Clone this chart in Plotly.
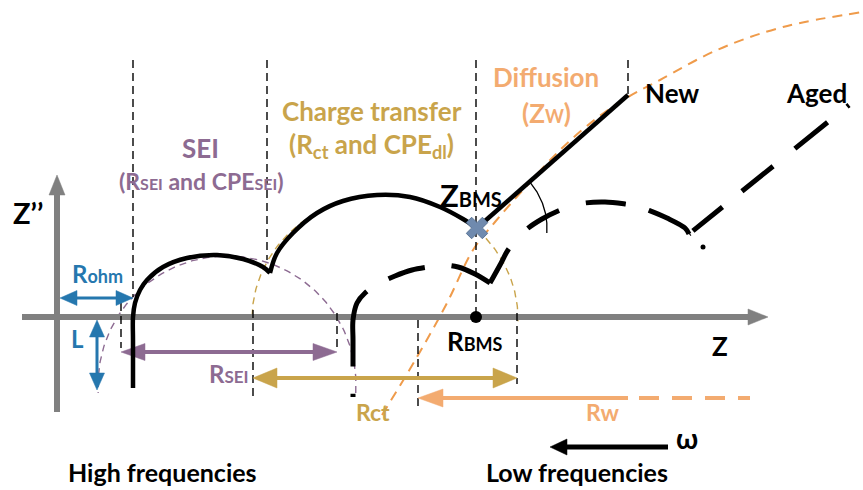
import numpy as np
import plotly.graph_objects as go

# ---------------- data (Z = real part, Zim = -imaginary part; same unit on both axes) ----------------
# "New" cell impedance spectrum (solid)
new_hf_z   = [76, 76, 76, 78, 83, 90, 106, 130, 160, 186, 206, 213]
new_hf_zim = [-71, -23, 0, 14, 27, 37, 50, 59, 62, 58, 50, 44]
new_ct_z   = [213, 220, 236, 260, 286, 320, 353, 383, 406, 420]
new_ct_zim = [44, 64, 84, 104, 116, 122, 120, 110, 98, 89]
new_w_z    = [420, 571]
new_w_zim  = [89, 222]

# "Aged" cell impedance spectrum (long dashes)
aged_hf_z   = [296, 296, 296, 300, 308, 323, 338, 355, 371, 385, 401, 418, 433]
aged_hf_zim = [-80, -23, -3, 14, 24, 34, 41, 47, 50, 52, 50, 43, 34]
aged_ct_z   = [433, 443, 451, 460, 470, 485, 501, 515, 528, 548, 568, 580, 591, 610, 628, 632]
aged_ct_zim = [34, 52, 67, 78, 88, 98, 106, 111, 114, 115, 113, 111, 107, 99, 89, 83]
aged_w_z    = [632, 792]
aged_w_zim  = [83, 212]
aged_dot_z, aged_dot_zim = [646], [70]

# Warburg (diffusion) guide curve
warb_z   = [325, 360, 390, 416, 438, 466, 503, 540, 571, 603, 660, 726, 806]
warb_zim = [-98, -40, 14, 67, 95, 127, 167, 199, 220, 237, 267, 290, 305]

# semicircle guides: centre (Z, Zim) and radii (real, imaginary)
sei_center, sei_radius = (170, -68), (129, 129)
ct_center, ct_radius = (328, -2), (133, 124)

# characteristic resistances / points
R_ohm = 76
R_sei = (64, 280)
R_ct = (196, 460)
R_w = (361, 571)
R_w_ext = 693
R_BMS = 419
Z_BMS = (420, 89)

# vertical region separators and arrow-end ticks
guide_z      = [76, 210, 419, 571]
guide_bottom = [20, 57, 0, 222]
guide_top    = 257
tick_z       = [64, 196, 280, 361, 460]
tick_top     = [14, 7, 4, -3, 4]
tick_bottom  = [-31, -80, -30, -90, -67]

# ---------------- colours ----------------
GRAY = "#808080"
PURPLE = "#8d6b92"
GOLD = "#c9a44b"
ORANGE_TXT = "#f3ab70"
ORANGE_LINE = "#ef9b4b"
BLUE = "#2577ae"
BLACK = "#000000"
FONT = "Lato"

fig = go.Figure()


def line(x, y, color, width, dash="solid", shape="linear"):
    fig.add_trace(go.Scatter(x=x, y=y, mode="lines", hoverinfo="skip",
                             line=dict(color=color, width=width, dash=dash, shape=shape, smoothing=1)))


def arrow(x0, y0, x1, y1, color, width, head_len, head_w, both=False):
    dx, dy = x1 - x0, y1 - y0
    L = float(np.hypot(dx, dy))
    ux, uy = dx / L, dy / L
    sx = x0 + (ux * head_len * 0.8 if both else 0)
    sy = y0 + (uy * head_len * 0.8 if both else 0)
    ex, ey = x1 - ux * head_len * 0.8, y1 - uy * head_len * 0.8
    line([sx, ex], [sy, ey], color, width)
    heads = [(x1, y1, ux, uy)]
    if both:
        heads.append((x0, y0, -ux, -uy))
    for tx, ty, vx, vy in heads:
        bx, by = tx - vx * head_len, ty - vy * head_len
        wx, wy = -vy * head_w / 2, vx * head_w / 2
        fig.add_trace(go.Scatter(x=[tx, bx + wx, bx - wx, tx], y=[ty, by + wy, by - wy, ty],
                                 mode="lines", fill="toself", fillcolor=color,
                                 line=dict(color=color, width=0.5), hoverinfo="skip"))


def arc(center, radii, a0, a1, color, width, dash):
    t = np.radians(np.linspace(a0, a1, 200))
    line(center[0] + radii[0] * np.cos(t), center[1] + radii[1] * np.sin(t), color, width, dash)


# semicircle guides and Warburg guide
arc(sei_center, sei_radius, -3.5, 183.5, PURPLE, 1.4, "7px,5px")
arc(ct_center, ct_radius, -1, 181, GOLD, 1.4, "7px,5px")
line(warb_z, warb_zim, ORANGE_LINE, 2, "10px,7px", "spline")

# axes
arrow(-35, 0, 711, 0, GRAY, 6, 20, 16)
arrow(0, -95, 0, 142, GRAY, 6, 20, 16)

# separators
for z, b in zip(guide_z, guide_bottom):
    line([z, z], [guide_top, b], BLACK, 1.4, "8px,5px")
for z, t, b in zip(tick_z, tick_top, tick_bottom):
    line([z, z], [t, b], BLACK, 1.4, "8px,5px")

# resistance arrows
arrow(3, 19, R_ohm, 19, BLUE, 3, 17, 15, both=True)
arrow(40, -3, 40, -73, BLUE, 3, 17, 15, both=True)
arrow(R_sei[0], -35, R_sei[1], -35, PURPLE, 4, 24, 17, both=True)
arrow(R_ct[0], -61, R_ct[1], -61, GOLD, 4, 24, 20, both=True)
arrow(R_w[1], -81, R_w[0], -81, ORANGE_TXT, 4, 25, 18)
line([R_w[1] + 11, R_w_ext], [-81, -81], ORANGE_TXT, 4, "20px,13px")
arrow(611, -130, 493, -130, BLACK, 5, 17, 16)

# spectra
line(new_hf_z, new_hf_zim, BLACK, 4.5, shape="spline")
line(new_ct_z, new_ct_zim, BLACK, 4.5, shape="spline")
line(new_w_z, new_w_zim, BLACK, 4.5)
line(aged_hf_z, aged_hf_zim, BLACK, 5, "3px,27px,80px,25px,38px,27px,60px", "spline")
line(aged_ct_z, aged_ct_zim, BLACK, 5, "39px,28px,36px,28px,40px,24px,60px", "spline")
line(aged_w_z, aged_w_zim, BLACK, 5, "1px,4px,38px,25px,40px,28px,42px,25px,5px")
fig.add_trace(go.Scatter(x=aged_dot_z, y=aged_dot_zim, mode="markers", hoverinfo="skip",
                         marker=dict(color=BLACK, size=5)))

# angle arc at Z_BMS
arc(Z_BMS, (70, 70), -4, 42, BLACK, 1.3, "solid")

# R_BMS point and Z_BMS cross
fig.add_trace(go.Scatter(x=[R_BMS], y=[0], mode="markers", hoverinfo="skip",
                         marker=dict(color=BLACK, size=12)))
fig.add_trace(go.Scatter(x=[Z_BMS[0]], y=[Z_BMS[1]], mode="markers", hoverinfo="skip",
                         marker=dict(symbol="x", color="#6f8aae", size=19,
                                     line=dict(color="#5a7596", width=1))))

# ---------------- text ----------------
def text(x, y, s, color, size):
    fig.add_annotation(x=x, y=y, text=s, showarrow=False, xanchor="center", yanchor="middle",
                       font=dict(family=FONT, size=size, color=color, weight="bold"))


def sc(s, size):
    return f"<span style='font-size:{size}px'>{s}</span>"


text(143, 169, "<b>SEI</b>", PURPLE, 26)
text(144, 136, f"<b>(R{sc('SEI', 16)} and CPE{sc('SEI', 16)})</b>", PURPLE, 23)
text(315, 206, "<b>Charge transfer</b>", GOLD, 26)
text(314, 172, "<b>(R<sub>ct</sub> and CPE<sub>dl</sub>)</b>", GOLD, 26)
text(489, 240, "<b>Diffusion</b>", ORANGE_TXT, 26)
text(489, 204, f"<b>(Z{sc('W', 18)})</b>", ORANGE_TXT, 26)
text(615, 224, "<b>New</b>", BLACK, 26)
text(759, 224, "<b>Aged</b>", BLACK, 26)
text(414, 122, f"<b>Z{sc('BMS', 20)}</b>", BLACK, 31)
text(418, -24, f"<b>R{sc('BMS', 18)}</b>", BLACK, 26)
text(663, -29, "<b>Z</b>", BLACK, 26)
text(-29, 105, "<b>Z’’</b>", BLACK, 29)
text(40, 44, f"<b>R{sc('ohm', 18)}</b>", BLUE, 24)
text(20, -21, "<b>L</b>", BLUE, 24)
text(172, -56, f"<b>R{sc('SEI', 17)}</b>", PURPLE, 24)
text(316, -95, "<b>Rct</b>", GOLD, 23)
text(545, -95, "<b>Rw</b>", ORANGE_TXT, 23)
text(630, -121, "<b>ω</b>", BLACK, 28)
text(105, -155, "<b>High frequencies</b>", BLACK, 25)
text(520, -155, "<b>Low frequencies</b>", BLACK, 25)

fig.update_layout(
    width=863, height=490, margin=dict(l=0, r=0, t=0, b=0),
    paper_bgcolor="white", plot_bgcolor="white", showlegend=False,
    xaxis=dict(range=[-57, 806], visible=False, fixedrange=True),
    yaxis=dict(range=[-173, 317], visible=False, fixedrange=True),
    hovermode=False,
)
fig.write_html("out.html", config={"displayModeBar": False})
